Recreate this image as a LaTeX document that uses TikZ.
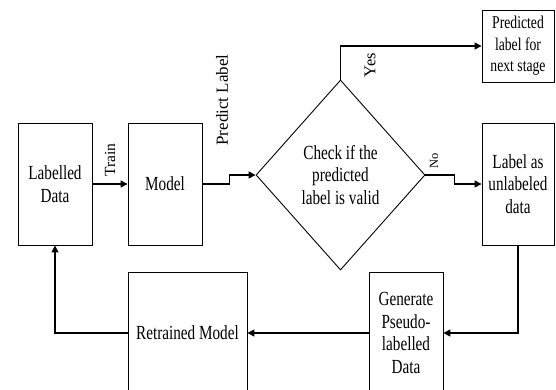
\documentclass[tikz,border=0pt]{standalone}
\usepackage{fontspec}
\setmainfont{Liberation Serif}
\newfontfamily\boxfont[FakeStretch=0.76]{Liberation Serif}
\usetikzlibrary{arrows.meta,shapes.geometric}

\tikzset{
  block/.style={draw, line width=0.9pt, minimum width=74pt, minimum height=122pt,
    inner sep=0pt, align=center, font=\boxfont\fontsize{20}{22.5}\selectfont},
  conn/.style={->, line width=1.5pt},
  side/.style={inner sep=0pt, font=\fontsize{15.5}{17}\selectfont}
}

\begin{document}
\begin{tikzpicture}[>={Triangle[length=7pt,width=7pt]}, x=1pt, y=-1pt]
        % Frame
        \useasboundingbox (0,0) rectangle (556,389);
        \clip (0,0) rectangle (556,389);
        % Boxes
        \node[block] (labelled) at (55,184) {Labelled\\Data};
        \node[block] (model) at (165,184) {Model};
        \node[block, diamond, minimum width=169pt, minimum height=190pt] (check) at (340.5,175)
          {Check if the\\predicted\\label is valid};
        \node[block, minimum width=72pt, minimum height=72pt,
          font=\boxfont\fontsize{18}{21.5}\selectfont] (predicted) at (518,46)
          {Predicted\\label for\\next stage};
        \node[block, minimum width=72pt] (unlabeled) at (518,184) {Label as\\unlabeled\\data};
        \node[block] (pseudo) at (406,333) {Generate\\Pseudo-\\labelled\\Data};
        \node[block, minimum width=119pt] (retrained) at (187.5,333) {Retrained Model};
        % Labels
        \node[side, rotate=90] (trainlbl) at (110,160) {Train};
        \node[side, rotate=90, font=\fontsize{17}{19}\selectfont] (predictlbl) at (222,100) {Predict Label};
        \node[side, rotate=90, font=\fontsize{16.5}{18}\selectfont] (yeslbl) at (370,65) {Yes};
        \node[side, rotate=90, font=\fontsize{12.5}{14}\selectfont] (nolbl) at (434,161) {No};
        % Arrows
        \draw[conn] (labelled.east) -- (model.west);
        \draw[conn] (model.east) -- ++(27,0) |- (check.west);
        \draw[conn] (check.east) -- ++(29,0) |- (unlabeled.west);
        \draw[conn, line width=1.2pt] (check.north) |- (predicted.west);
        \draw[conn] (unlabeled.south) |- (pseudo.east);
        \draw[conn] (pseudo.west) -- (retrained.east);
        \draw[conn] (retrained.west) -| (labelled.south);
\end{tikzpicture}
\end{document}
